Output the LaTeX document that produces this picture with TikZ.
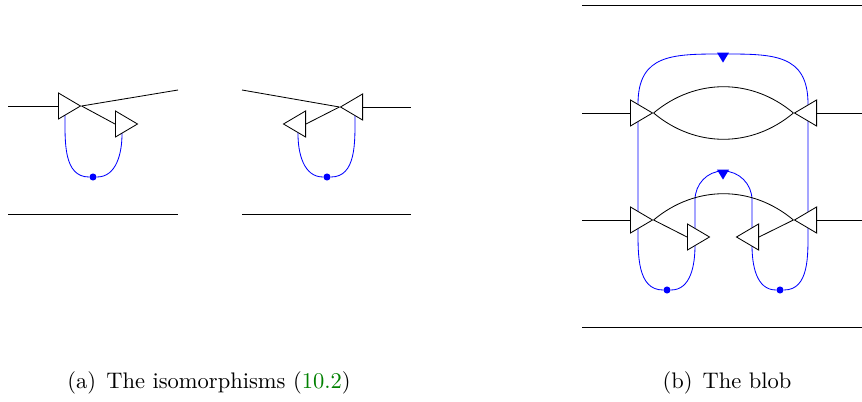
\documentclass[tikz,border=0pt]{standalone}
\usetikzlibrary{shapes.geometric, backgrounds, calc}
\definecolor{refgreen}{rgb}{0,0.5,0}

\begin{document}
\begin{tikzpicture}[x=0.48pt, y=0.48pt,
    tri/.style={isosceles triangle, isosceles triangle stretches, draw, fill=white,
        inner sep=0pt, minimum width=12.5pt, minimum height=10.6pt},
    trileft/.style={tri, shape border rotate=180},
    dot/.style={circle, fill=blue, inner sep=0pt, minimum size=3.4pt},
    marker/.style={isosceles triangle, isosceles triangle stretches, fill=blue,
        inner sep=0pt, minimum width=5.8pt, minimum height=4.8pt, shape border rotate=-90},
    caption/.style={anchor=base, font=\fontsize{10.8}{13}\selectfont}]
    \useasboundingbox (0,0) rectangle (862,401);

    % (a) left half
    \node[tri, anchor=west] (l1) at (58,295) {};
    \node[tri, anchor=west] (l2) at (115,277) {};
    \coordinate (linL) at (8,295);
    \coordinate (loutL) at (178,311);
    \draw (linL) -- (l1.west);
    \draw (l1.apex) -- (loutL);
    \draw (l1.apex) -- (l2.west);
    \node[dot] (dl) at (93,224) {};
    \draw (8,187) -- (178,187);

    % (a) right half
    \node[trileft, anchor=east] (r1) at (363,294) {};
    \node[trileft, anchor=east] (r2) at (306,277) {};
    \coordinate (linR) at (411,294);
    \coordinate (loutR) at (242,311);
    \draw (r1.east) -- (linR);
    \draw (loutR) -- (r1.apex);
    \draw (r1.apex) -- (r2.east);
    \node[dot] (dr) at (327,224) {};
    \draw (242,187) -- (411,187);

    \begin{scope}[on background layer]
        \draw[blue] ($(l1.west)+(7,0)$) -- ++(0,-10) to[out=-90,in=180] (dl)
            to[out=0,in=-90] ($(l2.west)+(7,-10)$) -- ++(0,10);
        \draw[blue] ($(r2.east)+(-8,0)$) -- ++(0,-10) to[out=-90,in=180] (dr)
            to[out=0,in=-90] ($(r1.east)+(-8,-10)$) -- ++(0,10);
    \end{scope}

    % (b) the blob
    \draw (582,396) -- (862,396);
    \draw (582,74) -- (862,74);
    \node[tri, anchor=west] (A) at (630,288) {};
    \node[trileft, anchor=east] (B) at (817,288) {};
    \node[tri, anchor=west] (C) at (630,181) {};
    \node[trileft, anchor=east] (D) at (817,181) {};
    \node[tri, anchor=west] (E) at (687,164) {};
    \node[trileft, anchor=east] (F) at (759,164) {};
    \coordinate (inA) at (582,288);
    \coordinate (outB) at (862,288);
    \coordinate (inC) at (582,181);
    \coordinate (outD) at (862,181);
    \draw (inA) -- (A.west);
    \draw (B.east) -- (outB);
    \draw (inC) -- (C.west);
    \draw (D.east) -- (outD);
    \draw (A.apex) to[out=40,in=140] (B.apex);
    \draw (A.apex) to[out=-40,in=-140] (B.apex);
    \draw (C.apex) to[out=40,in=140] (D.apex);
    \draw (C.apex) -- (E.west);
    \draw (D.apex) -- (F.east);
    \node[dot] (dL) at (667,111) {};
    \node[dot] (dR) at (780,111) {};
    \node[marker] (mTop) at (723,345) {};
    \node[marker] (mIn) at (723,228) {};

    \begin{scope}[on background layer]
        \draw[blue] (dL) to[out=180,in=-90] (638,172) -- (638,297)
            to[out=90,in=180,looseness=1.3] (723,347)
            to[out=0,in=90,looseness=1.3] (808,297) -- (808,172)
            to[out=-90,in=0] (dR) to[out=180,in=-90] (752,156) -- (752,201)
            to[out=90,in=0] (723,230) to[out=180,in=90] (695,201) -- (695,156)
            to[out=-90,in=0] (dL);
    \end{scope}

    % captions
    \node[caption] (capa) at (209,13) {(a)\hspace{0.45em}The isomorphisms (\textcolor{refgreen}{10.2})};
    \node[caption] (capb) at (727,13) {(b)\hspace{0.45em}The blob};
\end{tikzpicture}
\end{document}
